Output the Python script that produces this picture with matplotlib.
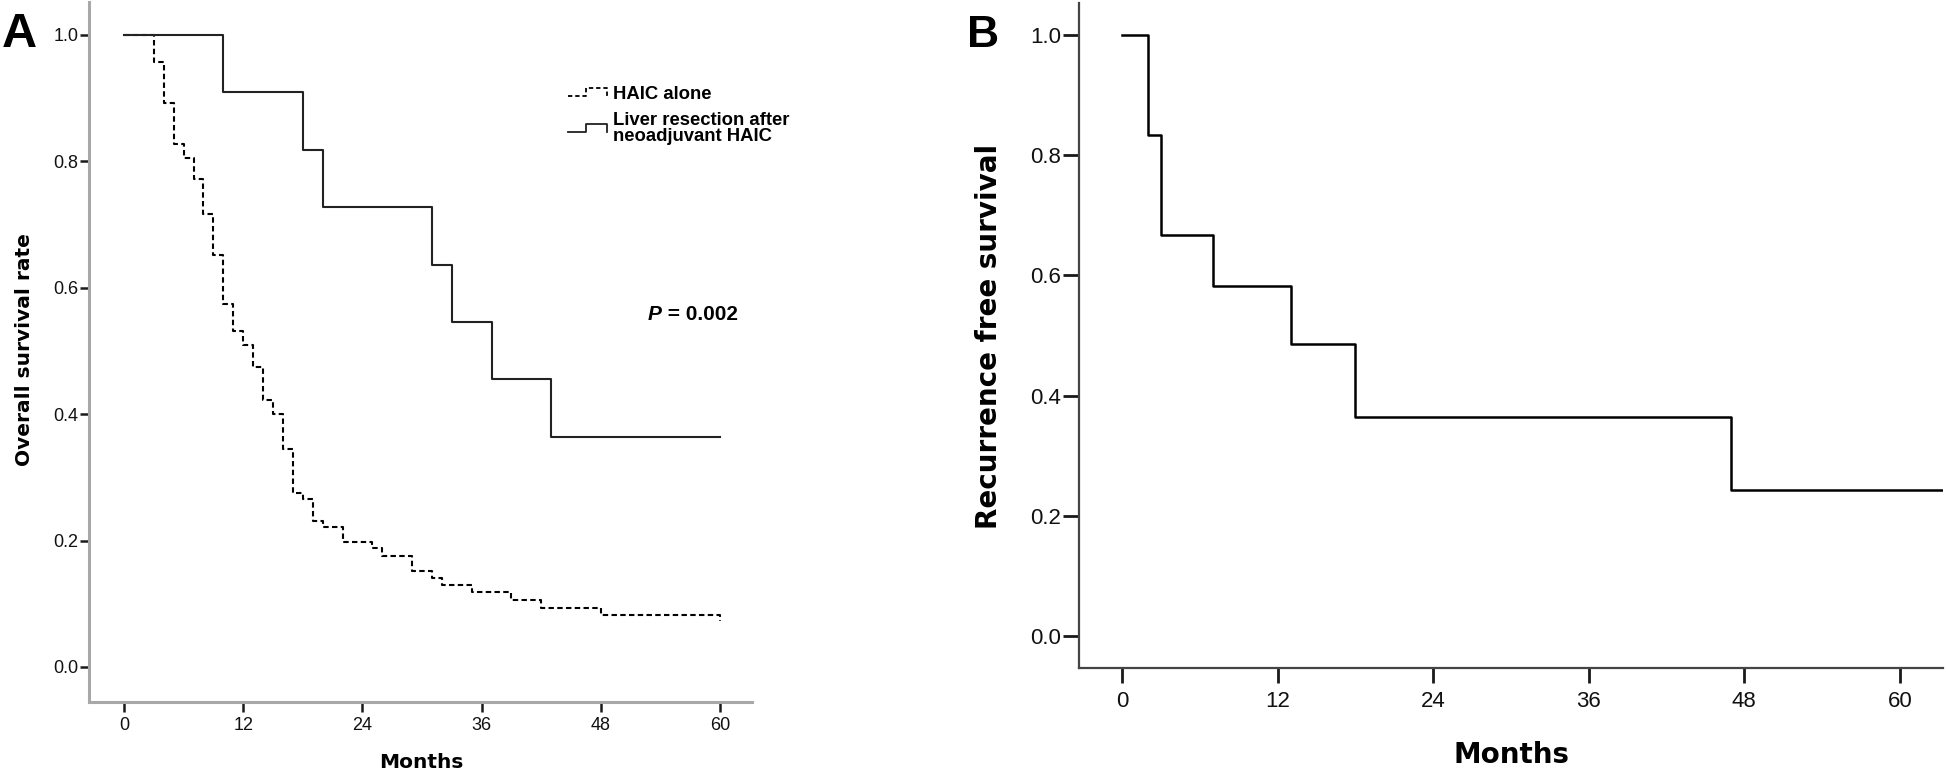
import matplotlib
matplotlib.use("Agg")
import matplotlib.pyplot as plt
from matplotlib.lines import Line2D
from matplotlib.legend_handler import HandlerBase

# ---------------- data ----------------
# Panel A: overall survival (Kaplan-Meier step curves)
haic_months = [0, 3, 4, 5, 6, 7, 8, 9, 10, 11, 12, 13, 14, 15, 16, 17, 18, 19, 20,
               22, 25, 26, 29, 31, 32, 35, 39, 42, 48, 60]
haic_surv = [1.0, 0.957, 0.892, 0.827, 0.805, 0.772, 0.717, 0.651, 0.575, 0.531,
             0.509, 0.475, 0.422, 0.400, 0.345, 0.275, 0.265, 0.231, 0.222,
             0.198, 0.188, 0.176, 0.152, 0.140, 0.129, 0.118, 0.106, 0.094,
             0.082, 0.072]
resect_months = [0, 10, 18, 20, 31, 33, 37, 43, 60]
resect_surv = [1.0, 0.909, 0.818, 0.727, 0.636, 0.545, 0.455, 0.364, 0.364]

# Panel B: recurrence free survival
rfs_months = [0, 2, 3, 7, 13, 18, 47, 64]
rfs_surv = [1.0, 0.833, 0.667, 0.583, 0.486, 0.365, 0.243, 0.243]

x_ticks = [0, 12, 24, 36, 48, 60]
y_ticks = [0.0, 0.2, 0.4, 0.6, 0.8, 1.0]
y_ticklabels = ["0.0", "0.2", "0.4", "0.6", "0.8", "1.0"]

label_haic = "HAIC alone"
label_resect = "Liver resection after\nneoadjuvant HAIC"
p_text = "P"
p_value = " = 0.002"

# ---------------- figure ----------------
W, H = 1946, 775
fig = plt.figure(figsize=(W / 100, H / 100), dpi=100)
fig.patch.set_facecolor("white")

TICKFONT = "Liberation Sans"
LABFONT = "DejaVu Sans"


class StepHandler(HandlerBase):
    def create_artists(self, legend, orig_handle, xdescent, ydescent,
                       width, height, fontsize, trans):
        x0 = -xdescent
        y0 = -ydescent
        ylo = y0 + 0.28 * height
        yhi = y0 + 0.78 * height
        xm = x0 + 0.47 * width
        line = Line2D([x0, xm, xm, x0 + width, x0 + width],
                      [ylo, ylo, yhi, yhi, ylo])
        line.update_from(orig_handle)
        line.set_data([x0, xm, xm, x0 + width, x0 + width],
                      [ylo, ylo, yhi, yhi, ylo])
        line.set_transform(trans)
        return [line]


def style_axes(ax, spine_color, spine_lw, ylen, xlen, tick_lw, tsize, ypad, xpad):
    for s in ("top", "right"):
        ax.spines[s].set_visible(False)
    for s in ("left", "bottom"):
        ax.spines[s].set_color(spine_color)
        ax.spines[s].set_linewidth(spine_lw)
    ax.set_xticks(x_ticks)
    ax.set_yticks(y_ticks)
    ax.set_yticklabels(y_ticklabels)
    ax.tick_params(axis="y", direction="out", length=ylen, width=tick_lw,
                   color="#1a1a1a", pad=ypad, labelsize=tsize)
    ax.tick_params(axis="x", direction="out", length=xlen, width=tick_lw,
                   color="#1a1a1a", pad=xpad, labelsize=tsize)
    for lab in ax.get_xticklabels() + ax.get_yticklabels():
        lab.set_fontfamily(TICKFONT)
        lab.set_color("#111111")
    ax.set_facecolor("white")


# ---------------- Panel A ----------------
axA = fig.add_axes([89.3 / W, 1 - 702 / H, (751.7 - 89.3) / W, (702 - 2) / H])
axA.step(haic_months, haic_surv, where="post", color="black", lw=1.5,
         linestyle=(0, (2.6, 1.6)), label=label_haic)
axA.step(resect_months, resect_surv, where="post", color="#222222", lw=1.5,
         label=label_resect)
axA.set_xlim(-3.49, 63.18)
axA.set_ylim(-0.0554, 1.052)
style_axes(axA, "#a8a8a8", 2.2, 6.5, 7, 1.8, 13, 1.5, 4)

hA = [Line2D([], [], color="black", lw=1.3, linestyle=(0, (2.4, 1.6))),
      Line2D([], [], color="#222222", lw=1.3)]
leg = axA.legend(hA, [label_haic, label_resect],
                 handler_map={Line2D: StepHandler()},
                 loc="upper left", bbox_to_anchor=(568 / W, 1 - 84 / H),
                 bbox_transform=fig.transFigure, frameon=False,
                 borderaxespad=0, borderpad=0, handlelength=2.1,
                 handleheight=1.0, handletextpad=0.35, labelspacing=0.5,
                 prop={"family": TICKFONT, "weight": "bold", "size": 13.3})
for t in leg.get_texts():
    t.set_linespacing(0.95)

ptxt = fig.text(648 / W, 1 - 320 / H, p_text, fontsize=15, fontweight="bold",
                fontstyle="italic", family=TICKFONT, ha="left", va="baseline")
axA.annotate(p_value, xy=(1, 0), xycoords=ptxt, fontsize=15,
             fontweight="bold", family=TICKFONT, ha="left", va="bottom")

fig.text(25 / W, 1 - 350 / H, "Overall survival rate", rotation=90,
         ha="center", va="center", fontsize=14.5, fontweight="bold",
         family=LABFONT)
fig.text(421 / W, 1 - 753 / H, "Months", ha="center", va="top",
         fontsize=14.5, fontweight="bold", family=LABFONT)
fig.text(2 / W, 1 - 47 / H, "A", ha="left", va="baseline", fontsize=35,
         fontweight="bold", family=TICKFONT)

# ---------------- Panel B ----------------
axB = fig.add_axes([1079.3 / W, 1 - 668 / H, (1943 - 1079.3) / W, (668 - 3) / H])
axB.step(rfs_months, rfs_surv, where="post", color="black", lw=1.8)
axB.set_xlim(-3.31, 63.33)
axB.set_ylim(-0.053, 1.053)
style_axes(axB, "#444444", 1.6, 11.5, 10.5, 2.0, 16, 1.5, 6)

fig.text(989 / W, 1 - 336 / H, "Recurrence free survival", rotation=90,
         ha="center", va="center", fontsize=20, fontweight="bold",
         family=LABFONT)
fig.text(1511 / W, 1 - 741 / H, "Months", ha="center", va="top",
         fontsize=20, fontweight="bold", family=LABFONT)
fig.text(967 / W, 1 - 47 / H, "B", ha="left", va="baseline", fontsize=32,
         fontweight="bold", family=TICKFONT)

fig.savefig("out.png", dpi=100, facecolor="white")
